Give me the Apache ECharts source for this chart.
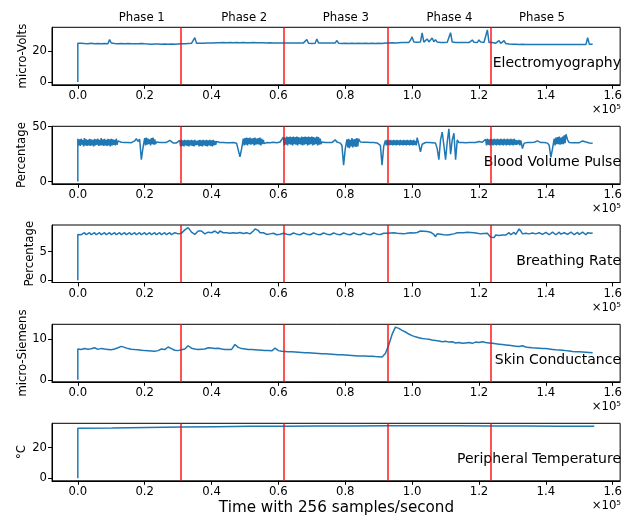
<!DOCTYPE html>
<html><head><meta charset="utf-8">
<script src="https://cdn.jsdelivr.net/npm/echarts@6/dist/echarts.min.js"></script>
<style>html,body{margin:0;padding:0;background:#fff}#c{width:625px;height:517px}</style>
</head><body><div id="c"></div>
<script>
// ---------- data ----------
const STEP = 500;        // samples between readings (EMG, BVP, breathing)
const STEP_SC = 1000;    // samples between readings (skin conductance)
const STEP_TEMP = 10300; // samples between readings (temperature)
const phaseBounds = [30870, 61740, 92610, 123480];
const phaseNames = ['Phase 1', 'Phase 2', 'Phase 3', 'Phase 4', 'Phase 5'];
const xTicks = [0, 20000, 40000, 60000, 80000, 100000, 120000, 140000, 160000];

const emg = [
0,24.8,24.4,24.9,24.3,24.7,24.2,24.6,24.3,24.8,24.2,24.6,24.4,24.7,24.2,24.6,24.3,24.7,24.2,24.6,
27.2,25.0,24.4,24.7,24.2,24.6,24.3,24.7,24.2,24.6,24.3,24.7,24.2,24.5,24.3,24.6,24.2,24.6,24.3,24.7,
24.1,24.5,23.9,24.4,24.0,24.3,23.9,24.4,24.0,24.4,23.9,24.3,24.0,24.4,23.9,24.3,24.0,24.4,23.9,24.3,
24.0,24.4,24.1,24.5,24.2,24.6,24.3,24.7,24.4,24.8,25.2,28.5,24.8,24.5,24.9,24.5,24.9,24.6,25.0,24.6,
25.0,24.7,25.1,24.8,25.2,24.8,25.2,24.9,25.3,24.9,25.2,24.8,25.3,24.9,25.2,24.9,25.3,24.8,25.2,24.9,
25.3,24.9,25.2,24.8,25.2,24.9,25.3,24.8,25.2,24.9,25.2,24.8,25.2,24.9,25.1,24.8,25.2,24.9,25.1,24.8,
25.1,24.8,25.0,24.7,25.1,24.8,25.0,24.7,25.1,24.8,25.0,24.7,25.1,24.8,25.0,24.7,25.1,24.8,27.3,24.9,
25.1,24.7,25.0,24.8,27.6,25.0,24.7,25.1,24.8,25.0,24.7,25.1,24.8,25.0,24.7,25.1,26.6,24.9,25.0,24.7,
25.1,24.8,25.0,24.7,25.1,24.8,25.0,24.7,25.1,24.8,25.0,24.7,25.1,24.8,25.5,24.7,25.1,24.8,25.0,24.7,
25.1,24.8,25.0,24.7,25.1,25.0,25.6,25.1,25.7,25.2,25.8,25.1,25.9,25.2,25.7,25.3,26.2,25.3,26.5,25.4,
26.8,28.9,25.6,26.4,25.5,26.6,25.7,31.5,25.6,26.8,27.6,25.7,26.4,28.2,25.8,27.2,25.6,26.1,25.4,25.9,
25.3,25.8,25.5,26.0,31.6,25.6,25.9,25.3,25.8,25.4,25.9,25.3,25.7,25.4,26.2,25.3,25.8,26.9,25.5,26.0,
25.4,27.0,25.6,26.1,25.5,26.3,33.4,25.4,25.9,25.3,25.6,24.9,25.4,26.6,24.8,25.2,26.5,24.7,24.9,24.4,
24.7,24.3,24.6,24.2,24.5,24.1,24.5,24.2,24.5,24.1,24.4,24.0,24.4,24.1,24.4,24.0,24.4,24.1,24.4,24.0,
24.4,24.1,24.4,24.0,24.4,24.1,24.4,24.0,24.4,24.1,24.4,24.0,24.4,24.1,24.4,24.0,24.4,24.1,24.4,24.0,
24.4,24.1,24.4,24.0,24.4,24.1,28.4,24.3,24.5,24.2
];

// a pair [high, low] is the pulse band's top and bottom within one reading interval
const bvp = [
0,
[39,33],[38.5,32.5],[39,33.5],[38,32],[39.5,33],[38.5,32.5],[38,33],[39,32.5],[38.5,33],[38,32],[39,33],[38.5,33.5],[39,32.5],[38,33],[39.5,33],[38.5,32.5],[39,33],[38,32.5],[39,33],[38.5,32],[39,33],[38.5,33.5],[38,33],[39,33.5],37,
35.5,35.8,35.4,35.6,35.3,35.5,35.7,35.4,35.6,
37,39,36.5,
38.5,20,31,[39.5,33],[40,33.5],[39,34],[38.5,33],[39.5,34],[40,33.5],[38.5,34],36,
35.5,35.6,35.3,35.5,35.4,35.6,35.5,
37.5,37,
35.2,35,35.2,35,
[37.5,32],[38,32.5],[37.5,32],[38,33],[37.5,32.5],[38,32],[37.5,33],[38,32.5],[37.5,32],[38,33],[37,33.5],[37.5,32],[38,32.5],[37.5,32],[38,33],[37.5,32.5],[38,32],[37.5,33],[38,32.5],[37.5,32],[38,33],[37,33.5],36.5,
35.5,35.6,35.4,35.5,35.6,35.3,35.5,35.4,35.6,35.5,35.2,34.8,33,
22.5,30,
[39,33],[39.5,33.5],[40,33],[39.5,34],[40,33.5],[39,34],[39.5,33],[40,33.5],[39,34],[39.5,33.5],[40,33],[39,34],[38,34.5],36,
35.5,35.6,35.4,35.5,35.7,35.5,35.4,35.6,36,37,
[40.5,33],[40,33.5],[41,33],[40.5,34],[41,33.5],[40.5,33],[41,34],[40.5,33.5],[41,33],[40.5,34],[40,33.5],[41,33],[40.5,33.5],[41,34],[40.5,33],[41,33.5],[40.5,34],[41,33],[40.5,33.5],[40,34],[41,33],[40.5,33.5],[39,34],36,
35.5,35.6,35.4,35.5,35.6,35.5,36.5,38,
36,35.5,35,33,15,30,
[38.5,31],[39,30.5],[38,32],[39.5,31],[38.5,32],[39,31.5],[39.5,32],39,36,
35.5,35.8,37,35.8,35.5,35.6,35.4,35.5,35.3,35.2,34.8,33,
15,32,
[37.5,33],[38,33.5],[37.5,33],[38,33.5],[37.5,33],[38,33.5],[37.5,33],[38,33.5],[37.5,33],[38,33.5],[37.5,33],[38,33.5],[37.5,33],[38,33.5],[37.5,33],[38,33.5],[37.5,33],[38,33.5],[37,33],40,34,
27,34,35.5,35.6,35.4,35.5,35.6,35.3,35.5,35,
30,20,38,45,33,20,36,48,25,38,44,20,38,
35.5,35.4,35.6,35.5,35.3,35.5,35.6,35.4,35.5,35.6,35.5,35.7,36.5,37,35.8,35.2,
[38.5,33],[39,33.5],[38.5,33],[39,33.5],[38.5,33],[39,33.5],[38.5,33],[39,33.5],[38.5,33],[39,33.5],[38.5,33],[39,33.5],[38.5,33],[39,33.5],[38.5,33],[39,33.5],[38.5,33],[39,33.5],[38,33.5],[37.5,34],[38,33],[37.5,34],30,35,
35.5,35.6,35.4,35.5,35.6,35.8,36.5,37,36,35.5,35.4,35.6,35.5,35,33,
22,30,
[39,33],[40,34],[40.5,34],[41,33.5],[40,34],[41,34],[42,35],43,
38,35.5,35.6,35.4,35.5,35.3,35.5,35.4,36,37,37.5,36,35.5,35.2,35,34.8
];

const breathing = [
0,
8.0,8.3,7.95,8.1,8.3,7.95,8.05,8.3,7.95,8.1,8.3,7.95,8.05,8.3,7.95,8.1,8.3,7.95,8.05,8.3,
7.95,8.1,8.3,7.95,8.05,8.3,7.95,8.1,8.3,7.95,8.05,8.3,7.95,8.1,8.3,7.95,8.05,8.3,7.95,8.1,
8.3,7.95,8.05,8.3,7.95,8.1,8.3,7.95,8.05,8.3,7.95,8.1,8.3,7.95,8.05,8.3,7.95,8.1,8.3,8.0,8.1,
8.1,8.2,8.4,8.8,9.1,9.2,8.9,8.4,
8.1,8.0,8.2,8.6,8.75,8.6,8.3,8.1,8.15,8.4,
8.5,8.3,8.4,8.6,8.5,8.2,8.6,8.55,8.3,8.1,
8.3,8.45,8.2,8.05,8.3,8.4,8.2,8.05,8.35,8.4,
8.15,8.0,8.3,8.35,8.1,8.3,8.6,8.95,9.0,8.7,
8.3,8.1,8.3,8.2,8.0,8.25,8.1,7.95,8.2,8.1,7.95,8.2,8.05,7.95,
8.2,7.95,8.05,8.25,7.95,8.1,8.25,7.95,8.05,8.25,7.95,8.1,8.25,7.95,8.05,8.25,7.95,8.1,8.25,7.95,
8.05,8.25,7.95,8.1,8.25,7.95,8.05,8.25,7.95,8.1,8.25,7.95,8.05,8.25,7.95,8.1,8.25,7.95,8.05,8.25,
7.95,8.1,8.25,7.95,8.05,8.25,7.95,8.1,8.25,7.95,8.05,8.25,7.95,8.1,8.25,7.95,8.05,8.25,8.0,8.1,8.2,8.05,
8.2,8.1,8.25,8.15,8.3,8.1,8.2,8.3,8.15,8.25,8.1,8.3,8.2,8.15,8.3,8.2,8.25,8.15,8.35,8.5,
8.6,8.45,8.55,8.4,8.5,8.35,8.4,8.2,8.0,7.6,8.1,8.2,8.05,8.15,7.95,8.1,7.9,8.05,8.0,8.2,
8.1,8.0,8.3,8.35,8.3,8.4,8.3,8.35,8.4,8.3,8.35,8.25,8.3,8.35,8.2,8.3,8.1,8.25,8.15,8.3,8.2,
7.9,7.5,7.8,7.45,7.9,8.0,7.8,8.1,7.9,8.2,7.9,8.05,8.3,7.95,8.1,8.35,8.0,8.5,8.95,8.6,
8.1,7.95,8.2,8.35,8.1,7.95,8.25,8.4,8.1,7.95,8.3,8.35,8.0,8.05,8.35,8.3,7.95,8.1,8.4,8.2,
7.95,8.2,8.4,8.05,7.95,8.3,8.35,8.0,8.1,8.4,8.2,7.95,8.25,8.35,8.0,8.05,8.4,8.15,7.95,8.3,8.3,8.2,8.25
];

const skinConductance = [
0,7.6,7.5,7.7,7.55,7.65,7.9,7.5,7.75,7.6,
7.5,7.4,7.6,7.9,8.25,8.0,7.7,7.55,7.45,7.4,
7.3,7.2,7.15,7.1,7.05,7.2,7.6,7.45,8.1,7.7,
7.3,7.2,7.4,7.6,8.4,7.8,7.6,7.5,7.55,7.6,
7.9,7.85,7.7,7.8,7.6,7.5,7.45,7.5,8.7,8.0,
7.7,7.6,7.5,7.45,7.4,7.35,7.3,7.25,7.2,7.15,
7.8,7.2,7.05,7.0,6.95,6.9,6.85,6.8,6.75,6.7,
6.65,6.6,6.55,6.5,6.45,6.4,6.35,6.3,6.25,6.2,
6.15,6.1,6.05,6.0,5.95,5.9,5.88,5.85,5.82,5.8,
5.72,5.68,5.62,6.5,8.6,11.2,13.0,12.7,12.2,11.8,
11.3,10.9,10.6,10.4,10.2,10.1,10.0,9.8,9.7,9.6,
9.4,9.5,9.3,9.4,9.1,9.2,9.0,9.1,9.2,9.0,
9.3,9.2,9.4,9.2,9.1,9.0,8.9,8.8,8.7,8.6,
8.5,8.4,8.3,8.2,8.4,8.1,8.0,7.9,7.85,7.8,
7.75,7.7,7.6,7.5,7.4,7.35,7.3,7.2,7.1,7.0,
6.95,6.9,6.85,6.8,6.75,6.7
];

const temperature = [0,32.8,33.0,33.3,33.6,33.8,34.0,34.1,34.2,34.3,34.35,34.4,34.35,34.3,34.2,34.1,34.0];

const panels = [
  {name: 'micro-Volts',   label: 'Electromyography',       values: emg,             step: STEP,     yMin: -1.8, yMax: 35.1, yTicks: [0, 20], gap: 23},
  {name: 'Percentage',    label: 'Blood Volume Pulse',     values: bvp,             step: STEP,     yMin: -2.0, yMax: 50.3, yTicks: [0, 50], gap: 24},
  {name: 'Percentage',    label: 'Breathing Rate',         values: breathing,       step: STEP,     yMin: -0.4, yMax: 9.65, yTicks: [0, 5],  gap: 16.5},
  {name: 'micro-Siemens', label: 'Skin Conductance',       values: skinConductance, step: STEP_SC,  yMin: -0.5, yMax: 13.7, yTicks: [0, 10], gap: 23},
  {name: '°C',            label: 'Peripheral Temperature', values: temperature,     step: STEP_TEMP,yMin: -1.7, yMax: 36.0, yTicks: [0, 20], gap: 24}
];

// readings -> [sample, value] points (pairs split into band top / bottom half an interval apart)
function toPoints(values, step) {
  const pts = [];
  values.forEach((v, k) => {
    const x = k === 0 ? 0 : (k - 1) * step;
    if (Array.isArray(v)) { pts.push([x, v[0]]); pts.push([x + step / 2, v[1]]); }
    else pts.push([x, v]);
  });
  return pts;
}

// ---------- layout ----------
const FONT = 'DejaVu Sans';
const LEFT = 52, RIGHT_X = 621, H = 57.5;
const tops = [27.3, 126.3, 225, 324.3, 423.3];
const phaseCenters = [141.7, 244.2, 345.8, 449.5, 542];

const grids = [], xAxes = [], yAxes = [], series = [], graphics = [];
panels.forEach((p, i) => {
  grids.push({left: LEFT, top: tops[i], width: RIGHT_X - LEFT, height: H, show: true,
              borderColor: '#000', borderWidth: 1, backgroundColor: 'transparent'});
  xAxes.push({type: 'value', gridIndex: i, min: -7725, max: 162225,
    axisLine: {show: true, onZero: false, lineStyle: {color: '#000', width: 1}},
    axisTick: {show: true, length: 4, lineStyle: {color: '#000'}, customValues: xTicks},
    axisLabel: {show: true, margin: 5, color: '#000', fontFamily: FONT, fontSize: 11.7,
                customValues: xTicks, formatter: v => (v / 1e5).toFixed(1)},
    splitLine: {show: false}});
  yAxes.push({type: 'value', gridIndex: i, min: p.yMin, max: p.yMax,
    name: p.name, nameLocation: 'middle', nameGap: p.gap, nameMoveOverlap: false,
    nameTextStyle: {color: '#000', fontFamily: FONT, fontSize: 11.7},
    axisLine: {show: true, onZero: false, lineStyle: {color: '#000', width: 1}},
    axisTick: {show: true, length: 4, lineStyle: {color: '#000'}, customValues: p.yTicks},
    axisLabel: {show: true, margin: 5, color: '#000', fontFamily: FONT, fontSize: 11.7, customValues: p.yTicks},
    splitLine: {show: false}});
  series.push({type: 'line', xAxisIndex: i, yAxisIndex: i, showSymbol: false, symbol: 'none',
    data: toPoints(p.values, p.step),
    lineStyle: {color: '#1f77b4', width: 1.5}, itemStyle: {color: '#1f77b4'},
    animation: false, silent: true,
    markLine: {silent: true, symbol: ['none', 'none'], animation: false, label: {show: false},
      lineStyle: {color: '#ff0000', width: 1.5, type: 'solid', opacity: 0.9},
      emphasis: {disabled: true},
      data: phaseBounds.map(b => ({xAxis: b}))}});
  graphics.push({type: 'text', x: RIGHT_X, y: tops[i] + 36,
    style: {text: p.label, fill: '#000', font: '14px "' + FONT + '"', align: 'right', verticalAlign: 'middle'}});
  graphics.push({type: 'text', x: RIGHT_X, y: tops[i] + H + 25,
    style: {text: '×10⁵', fill: '#000', font: '11.7px "' + FONT + '"', align: 'right', verticalAlign: 'middle'}});
});
phaseNames.forEach((n, j) => graphics.push({type: 'text', x: phaseCenters[j], y: 17.5,
  style: {text: n, fill: '#000', font: '11.7px "' + FONT + '"', align: 'center', verticalAlign: 'middle'}}));
graphics.push({type: 'text', x: (LEFT + RIGHT_X) / 2, y: 508,
  style: {text: 'Time with 256 samples/second', fill: '#000', font: '15.2px "' + FONT + '"', align: 'center', verticalAlign: 'middle'}});

const chart = echarts.init(document.getElementById('c'), null, {renderer: 'canvas'});
chart.setOption({animation: false, grid: grids, xAxis: xAxes, yAxis: yAxes, series: series, graphic: graphics});
</script></body></html>
